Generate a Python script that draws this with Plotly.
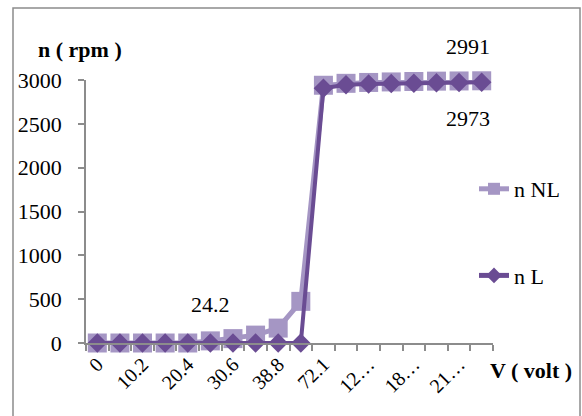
import plotly.graph_objects as go

# Motor speed versus supply voltage, no-load and loaded
tick_labels = ["0", "10.2", "20.4", "30.6", "38.8", "72.1", "12…", "18…", "21…"]
point_index = list(range(18))
n_nl = [0, 0, 0, 0, 0, 24.2, 50, 90, 170, 475,
        2940, 2962, 2972, 2978, 2983, 2987, 2989, 2991]
n_l = [0, 0, 0, 0, 0, 0, 0, 0, 0, 0,
       2905, 2945, 2955, 2960, 2964, 2968, 2971, 2973]

NL_COLOR = "#A596C4"
L_COLOR = "#6A4C93"
FONT = "Liberation Serif"

W, H = 582, 416
ML, MR, MT, MB = 86, 89, 80, 73
PW, PH = W - ML - MR, H - MT - MB


def px_x(p):
    return (p - ML) / PW


def px_y(p):
    return (MT + PH - p) / PH


fig = go.Figure()
fig.add_trace(go.Scatter(
    x=point_index, y=n_nl, name="n NL", mode="lines+markers",
    line=dict(color=NL_COLOR, width=5),
    marker=dict(symbol="square", size=19, color=NL_COLOR),
    legendgroup="nl", cliponaxis=False,
))
fig.add_trace(go.Scatter(
    x=point_index, y=n_l, name="n L", mode="lines+markers",
    line=dict(color=L_COLOR, width=4),
    marker=dict(symbol="diamond", size=15, color=L_COLOR),
    legendgroup="l", cliponaxis=False,
))

label_font = dict(size=22, color="black", family=FONT)

# data labels
fig.add_annotation(x=5, y=n_nl[5], text="24.2", showarrow=False, yshift=36,
                   xanchor="center", yanchor="middle", font=label_font)
fig.add_annotation(x=17, y=n_nl[17], text="2991", showarrow=False, yshift=34, xshift=-14,
                   xanchor="center", yanchor="middle", font=label_font)
fig.add_annotation(x=17, y=n_l[17], text="2973", showarrow=False, yshift=-36, xshift=-14,
                   xanchor="center", yanchor="middle", font=label_font)

# axis titles
fig.add_annotation(xref="paper", yref="paper", x=px_x(80), y=px_y(50),
                   xanchor="center", yanchor="middle",
                   text="<b>n ( rpm )</b>", showarrow=False, font=label_font)
fig.add_annotation(xref="paper", yref="paper", x=px_x(531), y=px_y(370),
                   xanchor="center", yanchor="middle",
                   text="<b>V ( volt )</b>", showarrow=False, font=label_font)

# chart frame
fig.add_shape(type="rect", xref="paper", yref="paper",
              x0=px_x(13), x1=px_x(580), y0=px_y(430), y1=px_y(8),
              line=dict(color="#8C8C8C", width=1.5), fillcolor="rgba(0,0,0,0)", layer="below")

fig.update_layout(
    width=W, height=H,
    margin=dict(l=ML, r=MR, t=MT, b=MB),
    paper_bgcolor="white", plot_bgcolor="white",
    font=dict(family=FONT, size=22, color="black"),
    showlegend=True,
    legend=dict(x=px_x(474), y=px_y(168), xanchor="left", yanchor="top",
                bgcolor="rgba(0,0,0,0)", tracegroupgap=55, itemsizing="constant",
                font=dict(size=22, family=FONT)),
    xaxis=dict(
        range=[-0.5, 17.5], tickvals=point_index[::2], ticktext=tick_labels,
        tickangle=-45, ticks="", showgrid=False, zeroline=False,
        showline=True, linecolor="#8C8C8C", linewidth=1.5,
        minor=dict(tickvals=[i - 0.5 for i in range(19)], ticks="outside",
                   ticklen=6, tickcolor="#8C8C8C", tickwidth=1.5, showgrid=False),
        tickfont=dict(size=20, family=FONT),
    ),
    yaxis=dict(
        range=[0, 3000], tickvals=[0, 500, 1000, 1500, 2000, 2500, 3000],
        ticks="outside", ticklen=6, tickcolor="#8C8C8C", tickwidth=1.5,
        showgrid=False, zeroline=False, showline=True, linecolor="#8C8C8C", linewidth=1.5,
        tickfont=dict(size=22, family=FONT), ticklabelstandoff=12,
    ),
)

fig.write_html("out.html")
